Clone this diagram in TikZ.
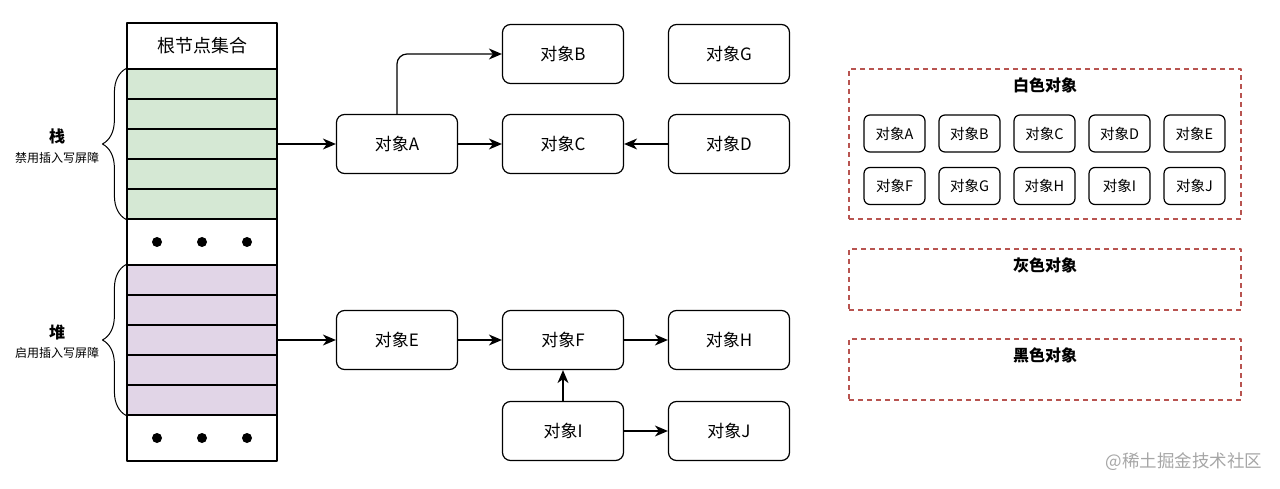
\documentclass[tikz,border=0pt]{standalone}
\usepackage{fontspec}
\setmainfont{Noto Sans CJK SC}
\usetikzlibrary{arrows.meta,decorations.pathreplacing}
\definecolor{stkgreen}{HTML}{D5E8D4}
\definecolor{heappurple}{HTML}{E1D5E7}
\definecolor{setred}{HTML}{B85450}
\begin{document}
\begin{tikzpicture}[x=1pt, y=-1pt, line join=round, line width=1.2pt]
	\tikzset{obj/.style={draw, rounded corners=8pt, minimum width=121pt, minimum height=59pt, font=\fontsize{17}{20}\selectfont},
		wobj/.style={draw, rounded corners=6pt, minimum width=61pt, minimum height=37pt, font=\fontsize{14.5}{17}\selectfont},
		setbox/.style={draw=setred, dash pattern=on 5pt off 4pt, minimum width=392pt, minimum height=61pt},
		settitle/.style={font=\fontsize{16}{19}\selectfont\bfseries},
		cell/.style={draw, minimum width=150pt, minimum height=46pt},
		region/.style={draw, minimum width=150pt, minimum height=150pt},
		arr/.style={-{Stealth[length=13pt,width=11pt,inset=4pt]}},
		brace style/.style={decorate, decoration={brace, amplitude=24pt}, line width=1pt}}
	\useasboundingbox (0,0) rectangle (1280,489);
	% root set column
	\node[cell, font=\fontsize{18}{21}\selectfont] (root) at (202,46) {根节点集合};
	\node[region, fill=stkgreen] (stack) at (202,144) {};
	\node[cell] (gap1) at (202,242) {};
	\node[region, fill=heappurple] (heap) at (202,340) {};
	\node[cell] (gap2) at (202,438) {};
	\foreach \y in {99,129,159,189} \draw (127,\y) -- (277,\y);
	\foreach \y in {295,325,355,385} \draw (127,\y) -- (277,\y);
	\foreach \x in {157,202,247} {
		\fill (\x,242) circle (5pt);
		\fill (\x,438) circle (5pt);
	}
	\draw[brace style] (stack.south west) -- (stack.north west);
	\draw[brace style] (heap.south west) -- (heap.north west);
	\node[font=\fontsize{16}{19}\selectfont\bfseries] (stklbl) at (57,136) {栈};
	\node[font=\fontsize{12}{14}\selectfont] (stksub) at (57,158) {禁用插入写屏障};
	\node[font=\fontsize{16}{19}\selectfont\bfseries] (heaplbl) at (57,332) {堆};
	\node[font=\fontsize{12}{14}\selectfont] (heapsub) at (57,353) {启用插入写屏障};
	% object graph
	\node[obj] (obja) at (397,144) {对象A};
	\node[obj] (objb) at (563,54) {对象B};
	\node[obj] (objc) at (563,144) {对象C};
	\node[obj] (objd) at (729,144) {对象D};
	\node[obj] (objg) at (729,54) {对象G};
	\node[obj] (obje) at (397,340) {对象E};
	\node[obj] (objf) at (563,340) {对象F};
	\node[obj] (objh) at (729,340) {对象H};
	\node[obj] (obji) at (563,431) {对象I};
	\node[obj] (objj) at (729,431) {对象J};
	\draw[arr] (stack.east) -- (obja);
	\draw[arr] (heap.east) -- (obje);
	\draw[arr, rounded corners=10pt] (obja.north) |- (objb.west);
	\draw[arr] (obja) -- (objc);
	\draw[arr] (objd) -- (objc);
	\draw[arr] (obje) -- (objf);
	\draw[arr] (objf) -- (objh);
	\draw[arr] (obji) -- (objf);
	\draw[arr] (obji) -- (objj);
	% colour sets
	\node[setbox, minimum height=150pt] (white) at (1045,144) {};
	\node[setbox] (gray) at (1045,279.5) {};
	\node[setbox] (black) at (1045,369.5) {};
	\node[settitle] (whitettl) at (1045,85) {白色对象};
	\node[settitle] (grayttl) at (1045,265) {灰色对象};
	\node[settitle] (blackttl) at (1045,355) {黑色对象};
	\foreach \n [count=\i from 0] in {A,B,C,D,E} {
		\node[wobj] (w\n) at (894.5+75*\i,133.5) {对象\n};
	}
	\foreach \n [count=\i from 0] in {F,G,H,I,J} {
		\node[wobj] (w\n) at (894.5+75*\i,186) {对象\n};
	}
	\node[text=black!35, font=\fontsize{17.5}{20}\selectfont, anchor=east] (mark) at (1266,462) {@稀土掘金技术社区};
\end{tikzpicture}
\end{document}
